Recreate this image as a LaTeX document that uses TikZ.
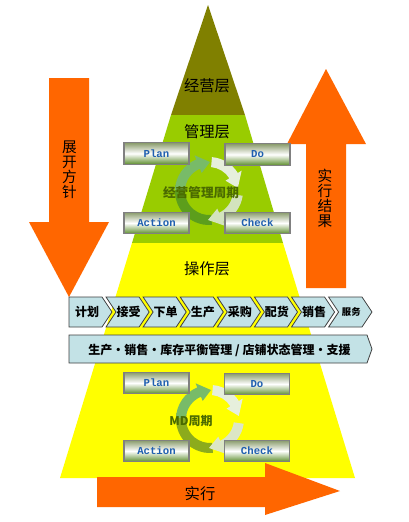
\documentclass[tikz,border=0pt]{standalone}
\usepackage{fontspec}
\setmainfont{Noto Sans CJK SC}
\newfontfamily\pdcafont{Liberation Mono}
\definecolor{oliveL}{HTML}{808000}
\definecolor{greenL}{HTML}{99CC00}
\definecolor{yellowL}{HTML}{FFFF00}
\definecolor{orangeA}{HTML}{FF6600}
\definecolor{chevfill}{HTML}{C3E2E6}
\definecolor{chevline}{HTML}{404040}
\definecolor{pdcablue}{HTML}{1F5FB0}
\definecolor{pdcatop}{HTML}{8A9C6C}
\definecolor{pdcabot}{HTML}{5F8F30}
\definecolor{cycA}{HTML}{5C9E1C}
\definecolor{cycAlow}{HTML}{8CAB1C}
\definecolor{cycTop}{HTML}{78BB68}
\definecolor{cycB}{HTML}{E6EFDC}
\definecolor{cycC}{HTML}{D3E3BE}
\definecolor{cycClow}{HTML}{DCE6C6}
\definecolor{cyctext}{HTML}{4A6A00}
\begin{document}
\begin{tikzpicture}[x=0.75pt,y=-0.75pt,
  layertext/.style={font=\fontsize{11.5}{13}\selectfont, text=black, inner sep=0pt},
  vtext/.style={font=\fontsize{11}{11.2}\selectfont, align=center, text=black, inner sep=0pt},
  pdca/.style={rectangle, draw=gray, line width=0.8pt, minimum width=48.75pt, minimum height=16pt,
    top color=pdcatop, bottom color=pdcabot, middle color=white, inner sep=0pt,
    font=\pdcafont\bfseries\fontsize{8}{9}\selectfont, text=pdcablue},
  chev/.style={fill=chevfill, draw=chevline, line width=0.6pt},
  chevtext/.style={font=\bfseries\fontsize{9}{10}\selectfont, text=black, inner sep=0pt},
  cyctxt/.style={font=\bfseries\fontsize{9.5}{10}\selectfont, text=cyctext, inner sep=0pt},
  arrowfill/.style={fill=orangeA},
  pics/cyclering/.style n args={4}{code={
    \begin{scope}[yscale=-1]
    \fill[#1] (275:34) arc[start angle=275,end angle=170,radius=34] -- (170:24) arc[start angle=170,end angle=275,radius=24] -- cycle;
    \fill[#3] (-8:34) arc[start angle=-8,end angle=-65,radius=34] -- (-65:38.5) -- (-92:29) -- (-65:19.5) -- (-65:24) arc[start angle=-65,end angle=-8,radius=24] -- cycle;
    \fill[#4] (85:34) arc[start angle=85,end angle=32,radius=34] -- (32:38.5) -- (6:29) -- (32:19.5) -- (32:24) arc[start angle=32,end angle=85,radius=24] -- cycle;
    \fill[#2] (178:34) arc[start angle=178,end angle=112,radius=34] -- (112:38.5) -- (88:29) -- (112:19.5) -- (112:24) arc[start angle=112,end angle=178,radius=24] -- cycle;
    \end{scope}
  }}
]
\useasboundingbox (0,0) rectangle (408,522);
\fill[white] (0,0) rectangle (408,522);

% pyramid
\fill[oliveL] (208,5) -- (245,115) -- (171,115) -- cycle;
\fill[greenL] (171,115) -- (245,115) -- (283,243) -- (132,243) -- cycle;
\fill[yellowL] (132,243) -- (283,243) -- (355,478) -- (60,478) -- cycle;

\node[layertext] (jy) at (207,86) {经营层};
\node[layertext] (gl) at (207,132) {管理层};
\node[layertext] (cz) at (207,269) {操作层};

% side arrows
\fill[arrowfill] (49,78) -- (89,78) -- (89,222) -- (109,222) -- (69,297) -- (29,222) -- (49,222) -- cycle;
\node[vtext] (zk) at (69.5,170) {展\\开\\方\\针};
\fill[arrowfill] (306,288) -- (346,288) -- (346,144) -- (366,144) -- (326,69) -- (287,144) -- (306,144) -- cycle;
\node[vtext] (sx) at (325,198) {实\\行\\结\\果};

% upper cycle
\pic at (209,191) {cyclering={cycA}{cycTop}{cycC}{cycB}};
\node[cyctxt] (jyzq) at (201,193) {经营管理周期};
\node[pdca] (p1) at (156.5,153.5) {Plan};
\node[pdca] (d1) at (257.5,154.5) {Do};
\node[pdca] (a1) at (156.5,223) {Action};
\node[pdca] (c1) at (257.5,223) {Check};

% chevrons
\fill[chev] (69,297) -- (102,297) -- (112,312) -- (102,327) -- (69,327) -- cycle;
\node[chevtext] (ch0) at (87,312) {计划};
\foreach \i/\t in {1/接受,2/下单,3/生产,4/采购,5/配货,6/销售}{
  \pgfmathsetmacro\T{112+37.1*\i}
  \pgfmathsetmacro\L{112+37.1*(\i-1)-6}
  \pgfmathsetmacro\E{\T-10}
  \fill[chev] (\L,297) -- (\E,297) -- (\T,312) -- (\E,327) -- (\L,327) -- (\L+10,312) -- cycle;
  \node[chevtext] (ch\i) at ({(\L+10+\E)/2+1},312) {\t};
}
\pgfmathsetmacro\Ls{112+37.1*6-6}
\fill[chev] (\Ls,297) -- (362,297) -- (372,312) -- (362,327) -- (\Ls,327) -- (\Ls+10,312) -- cycle;
\node[font=\bfseries\fontsize{7}{8}\selectfont, inner sep=0pt] (ch7) at ({(\Ls+10+362)/2+1},312) {服务};

% support bar
\fill[chev] (69,335) -- (367,335) -- (372,349) -- (367,363) -- (69,363) -- cycle;
\node[chevtext] (bar) at (219.5,350) {生产・销售・库存平衡管理 / 店铺状态管理・支援};

% lower cycle
\pic at (210,419) {cyclering={cycAlow}{cycTop}{cycClow}{cycB}};
\node[cyctxt, font=\bfseries\fontsize{9}{10}\selectfont, text=cyctext] (mdzq) at (191,421) {MD周期};
\node[pdca] (p2) at (156.5,383) {Plan};
\node[pdca] (d2) at (257,384) {Do};
\node[pdca] (a2) at (156.5,451) {Action};
\node[pdca] (c2) at (257,451) {Check};

% bottom arrow
\fill[arrowfill] (97,477) -- (265,477) -- (265,463) -- (340,491) -- (265,515) -- (265,507) -- (97,507) -- cycle;
\node[layertext] (sxb) at (200,494) {实行};
\end{tikzpicture}
\end{document}
